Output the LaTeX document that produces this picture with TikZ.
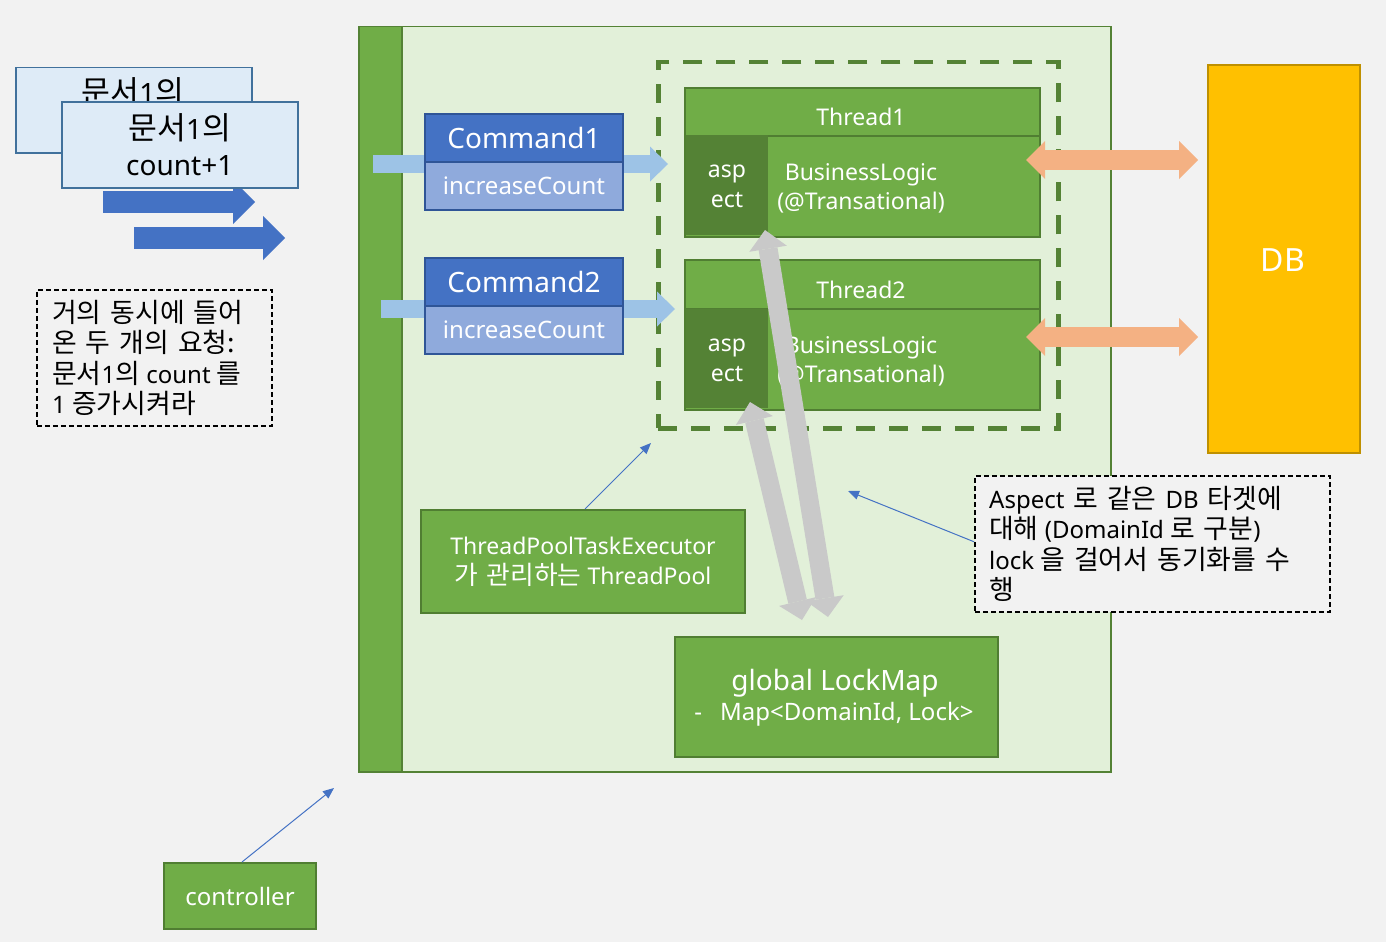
\documentclass[tikz,border=0pt]{standalone}
\usepackage{fontspec}
\setmainfont{Noto Sans}
\newfontfamily\kr[Scale=1.12]{Noto Sans CJK KR}
\usetikzlibrary{arrows.meta}
\newcommand\widesp{\spaceskip=9pt\relax}
\newcommand\midsp{\spaceskip=8.5pt\relax}
\definecolor{bg}{HTML}{F2F2F2}
\definecolor{lgreen}{HTML}{E2F0D9}
\definecolor{gmid}{HTML}{70AD47}
\definecolor{gdark}{HTML}{548235}
\definecolor{gborder}{HTML}{507E32}
\definecolor{bdark}{HTML}{4472C4}
\definecolor{bmid}{HTML}{8FAADC}
\definecolor{bborder}{HTML}{2F5597}
\definecolor{lblue}{HTML}{9DC3E6}
\definecolor{docfill}{HTML}{DEEBF7}
\definecolor{docborder}{HTML}{41719C}
\definecolor{orangea}{HTML}{F4B183}
\definecolor{dbfill}{HTML}{FFC000}
\definecolor{dbborder}{HTML}{BF9000}
\definecolor{greya}{HTML}{C9C9C9}
\tikzset{
  rbox/.style={rectangle, inner sep=0pt, anchor=north west},
  doc/.style={rbox, fill=docfill, draw=docborder, line width=1.5pt, align=center, font=\fontsize{28}{36}\selectfont},
  note/.style={rbox, fill=bg, draw=black, line width=1.5pt, dash pattern=on 5pt off 3pt},
  notetext/.style={anchor=north west, inner sep=0pt, align=left, font=\fontsize{24}{30.3}\selectfont},
  gbox/.style={rbox, fill=gmid, draw=gborder, line width=2pt, text=white, align=center},
  cmdtop/.style={rbox, fill=bdark, draw=bborder, line width=2pt, text=white, font=\fontsize{28}{34}\selectfont},
  cmdbot/.style={rbox, fill=bmid, draw=bborder, line width=2pt, text=white, font=\fontsize{24}{30}\selectfont},
  blockarrow/.style n args={4}{draw=#1, line width=#2, -{Triangle[length=#3, width=#4, line width=0pt]}},
  dblarrow/.style n args={4}{draw=#1, line width=#2, {Triangle[length=#3, width=#4, line width=0pt]}-{Triangle[length=#3, width=#4, line width=0pt]}},
  thinarrow/.style={draw=bdark, line width=1pt, -{Triangle[length=11pt, width=9pt]}},
  wtext/.style={text=white, align=center, inner sep=0pt}
}
\begin{document}
\begin{tikzpicture}[x=1pt,y=-1pt]
\useasboundingbox (0,0) rectangle (1386,942);
\fill[bg] (0,0) rectangle (1386,942);

% container
\node[rbox, fill=lgreen, draw=gdark, line width=1.5pt, minimum width=752pt, minimum height=745pt] (cont) at (358,26) {};
\node[rbox, fill=gmid, draw=gdark, line width=1.5pt, minimum width=43pt, minimum height=745pt] (bar) at (358,26) {};

% dashed thread pool box
\node[rbox, draw=gdark, line width=4.5pt, dash pattern=on 19pt off 14pt, minimum width=400pt, minimum height=366pt] (pool) at (656,60) {};

% top-left block arrows
\coordinate (b1s) at (103,202); \coordinate (b1e) at (255,202);
\coordinate (b2s) at (134,238); \coordinate (b2e) at (285,238);
\draw[blockarrow={bdark}{22pt}{22pt}{44pt}] (b1s) -- (b1e);
\draw[blockarrow={bdark}{22pt}{22pt}{44pt}] (b2s) -- (b2e);

% documents
\node[doc, minimum width=236pt, minimum height=85pt] (docA) at (15,67) {};
\node[inner sep=0pt, font=\fontsize{28}{36}\selectfont] (docAt) at (133,92) {{\kr 문서}1{\kr 의}};
\node[doc, minimum width=236pt, minimum height=86pt] (docB) at (61,101) {{\kr 문서}1{\kr 의}\\count+1};

% note 1
\node[note, minimum width=235pt, minimum height=136pt] (note1) at (36,289) {};
\node[notetext] (note1t) at (52,300)
 {\widesp{\kr\widesp 거의 동시에 들어}\\{\kr\widesp 온 두 개의 요청:}\\{\kr 문서}1{\kr 의} count {\kr 를}\\1 {\kr 증가시켜라}};

% light blue arrows behind commands
\coordinate (c1s) at (373,164); \coordinate (c1e) at (668,164);
\coordinate (c2s) at (381,309); \coordinate (c2e) at (675,309);
\draw[blockarrow={lblue}{18pt}{18pt}{35pt}] (c1s) -- (c1e);
\draw[blockarrow={lblue}{18pt}{18pt}{35pt}] (c2s) -- (c2e);

% commands
\node[cmdtop, minimum width=198pt, minimum height=48pt] (cmd1) at (424,113) {Command1};
\node[cmdbot, minimum width=198pt, minimum height=48pt] (cmd1m) at (424,161) {increaseCount};
\node[cmdtop, minimum width=198pt, minimum height=48pt] (cmd2) at (424,257) {Command2};
\node[cmdbot, minimum width=198pt, minimum height=48pt] (cmd2m) at (424,305) {increaseCount};

% threads
\node[gbox, minimum width=355pt, minimum height=149pt] (th1) at (684,87) {};
\draw[gborder, line width=2pt] (684,136) -- (1039,136);
\node[rbox, fill=gdark, minimum width=82pt, minimum height=100pt] (asp1) at (686,135) {};
\node[wtext, font=\fontsize{23}{29}\selectfont] (th1t) at (861,117) {Thread1};
\node[wtext, font=\fontsize{23}{30}\selectfont] (asp1t) at (727,186) {asp\\ect};
\node[wtext, font=\fontsize{23}{29}\selectfont] (bl1) at (861,188) {BusinessLogic\\(@Transational)};

\node[gbox, minimum width=355pt, minimum height=150pt] (th2) at (684,259) {};
\draw[gborder, line width=2pt] (684,309) -- (1039,309);
\node[rbox, fill=gdark, minimum width=82pt, minimum height=99pt] (asp2) at (686,309) {};
\node[wtext, font=\fontsize{23}{29}\selectfont] (th2t) at (861,290) {Thread2};
\node[wtext, font=\fontsize{23}{30}\selectfont] (asp2t) at (727,360) {asp\\ect};
\node[wtext, font=\fontsize{23}{29}\selectfont] (bl2) at (861,361) {BusinessLogic\\(@Transational)};

% DB
\node[rbox, fill=dbfill, draw=dbborder, line width=2pt, minimum width=152pt, minimum height=388pt] (db) at (1207,64) {};
\node[wtext, font=\fontsize{32}{38}\selectfont] (dbt) at (1283,260) {DB};

% orange double arrows
\coordinate (o1s) at (1026,160); \coordinate (o1e) at (1198,160);
\coordinate (o2s) at (1026,337); \coordinate (o2e) at (1198,337);
\draw[dblarrow={orangea}{20pt}{19pt}{38pt}] (o1s) -- (o1e);
\draw[dblarrow={orangea}{20pt}{19pt}{38pt}] (o2s) -- (o2e);

% thread pool label box
\node[gbox, minimum width=324pt, minimum height=103pt, font=\fontsize{23}{30}\selectfont] (tpe) at (420,509) {ThreadPoolTaskExecutor\\{\kr\midsp 가 관리하는} ThreadPool};

% lock map
\node[gbox, minimum width=323pt, minimum height=120pt] (lock) at (674,636) {};
\node[wtext, font=\fontsize{28}{34}\selectfont] (lockt1) at (835,683) {global LockMap};
\node[wtext, font=\fontsize{24}{28}\selectfont] (lockt2) at (834,714) {-\hspace{18pt}Map<DomainId, Lock>};

% grey double arrows
\coordinate (g1a) at (765,230); \coordinate (g1b) at (828,617);
\coordinate (g2a) at (750,402); \coordinate (g2b) at (802,620);
\draw[dblarrow={greya}{19pt}{19pt}{38pt}] (g1a) -- (g1b);
\draw[dblarrow={greya}{19pt}{19pt}{38pt}] (g2a) -- (g2b);

% note 2
\node[note, minimum width=355pt, minimum height=136pt] (note2) at (974,475) {};
\node[notetext] (note2t) at (989,486)
 {\widesp Aspect {\kr\widesp 로 같은} DB {\kr 타겟에}\\{\kr 대해} (DomainId {\kr\widesp 로 구분})\\lock {\kr\widesp 을 걸어서 동기화를 수}\\{\kr 행}};

% controller
\node[gbox, minimum width=152pt, minimum height=66pt, font=\fontsize{24}{30}\selectfont] (ctrl) at (163,862) {controller};

% thin arrows
\coordinate (t1) at (651,443);
\coordinate (t2) at (848,491);
\coordinate (t3) at (334,788);
\draw[thinarrow] (tpe.north) ++(2,0) -- (t1);
\draw[thinarrow] (note2.west) ++(0,-2) -- (t2);
\draw[thinarrow] (ctrl.north) ++(2,0) -- (t3);
\end{tikzpicture}
\end{document}
